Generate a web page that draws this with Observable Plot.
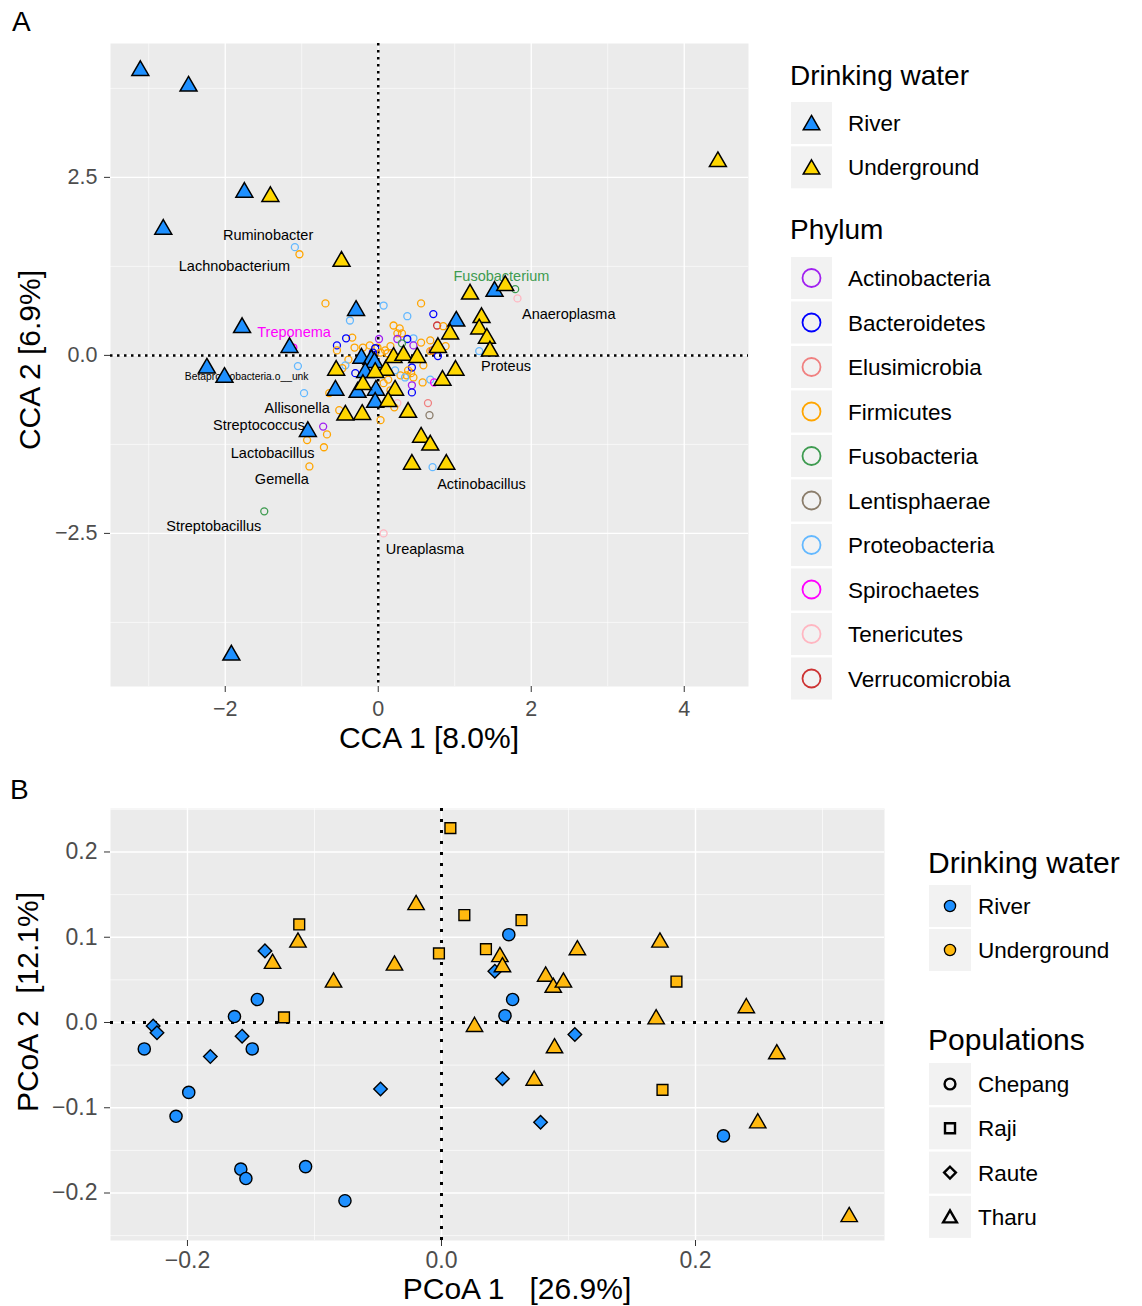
<!DOCTYPE html>
<html>
<head>
<meta charset="utf-8">
<script src="https://cdn.jsdelivr.net/npm/d3@7"></script>
<script src="https://cdn.jsdelivr.net/npm/@observablehq/plot@0.6"></script>
<style>
  body { margin: 0; background: #fff; }
  #root { position: relative; width: 1142px; height: 1306px; overflow: hidden; background: #fff;
          font-family: "Liberation Sans", Arial, Helvetica, sans-serif; }
</style>
</head>
<body>
<div id="root"></div>
<script>
// ---------------- DATA ----------------
const waterTypes = ["River", "Underground"];
const waterColorsA = ["#1E90FF", "#FFD700"];
const waterColorsB = ["#1E90FF", "#FFB90F"];
const phyla = ["Actinobacteria", "Bacteroidetes", "Elusimicrobia", "Firmicutes", "Fusobacteria",
  "Lentisphaerae", "Proteobacteria", "Spirochaetes", "Tenericutes", "Verrucomicrobia"];
const phylumColors = ["#A020F0", "#0000FF", "#F08080", "#FFA500", "#3E9B50",
  "#8B7D6B", "#63B8FF", "#FF00FF", "#FFB6C1", "#CD3333"];
const populations = ["Chepang", "Raji", "Raute", "Tharu"];

// Panel A: samples (CCA scores)
const riverCCA1 = [-3.11, -2.48, -1.75, -2.81, -1.78, -1.16, -2.24, -2.01, -0.92, -1.92, -0.29, 1.52, 1.02,
  -0.22, -0.09, -0.05, -0.17, -0.56, -0.27, -0.03, -0.04];
const riverCCA2 = [4.00, 3.78, 2.29, 1.77, 0.39, 0.11, -0.18, -0.31, -1.07, -4.21, 0.63, 0.90, 0.48,
  -0.04, -0.06, -0.10, -0.24, -0.49, -0.52, -0.49, -0.66];
const undergroundCCA1 = [4.44, -1.41, -0.48, 1.20, 1.66, 1.35, 1.32, 1.42, 1.46, 0.78, 0.94, 1.01, 0.84, 0.39,
  0.56, 0.68, 0.44, 0.89, -0.55, -0.43, -0.21, -0.20, 0.10, 0.20, 0.33, 0.51, 0.22, 0.13, -0.04];
const undergroundCCA2 = [2.72, 2.23, 1.32, 0.86, 0.98, 0.53, 0.37, 0.24, 0.06, 0.11, 0.30, -0.21, -0.35, -0.80,
  -1.15, -1.26, -1.53, -1.53, -0.21, -0.84, -0.83, -0.41, -0.21, -0.03, 0.00, -0.03, -0.49, -0.65, -0.24];

// Panel A: genera (CCA scores) coloured by phylum
const speciesCCA1 = [-1.09, -1.03, -0.69, 0.07, 0.56, -0.37, 0.72, 0.38, 0.77, 0.85, 0.20, 0.28, 0.31, 0.25,
  -0.34, -0.31, -0.42, -0.54, -0.54, 0.01, 0.46, 0.25, 0.38, 0.31, 0.16, 0.09, 0.46, -0.20, -0.11, -0.01,
  -0.04, 0.12, 0.68, 0.71, 0.78, 0.88, 1.32, -1.05, -1.11, -0.39, -0.43, -0.30, -0.47, 0.29, 0.37, 0.43,
  0.35, 0.44, 0.59, 0.46, 0.68, 0.58, 0.44, 0.44, 0.73, -0.97, -0.64, 0.07, 0.25, 0.21, 0.65, 0.67, -0.51,
  0.03, -0.72, -0.67, -0.93, -0.71, -0.90, 0.71, -1.49, 0.07, 1.79, 1.82, 0.16, 0.13, 0.56, 0.22, 0.39,
  0.03, 0.68, -0.07];
const speciesCCA2 = [1.52, 1.42, 0.73, 0.70, 0.73, 0.49, 0.58, 0.55, 0.42, 0.41, 0.42, 0.38, 0.31, 0.31,
  0.25, 0.11, 0.24, 0.14, 0.07, 0.23, 0.24, 0.23, 0.23, 0.17, 0.13, 0.07, 0.14, 0.11, 0.14, 0.11,
  0.10, 0.03, 0.21, 0.07, -0.01, 0.13, 0.06, -0.15, 0.11, -0.06, -0.14, -0.25, -0.18, -0.28, -0.28, -0.25,
  -0.31, -0.17, -0.14, -0.31, -0.34, -0.38, -0.42, -0.52, -0.38, -0.53, -0.53, -0.39, -0.67, -0.73, -0.67,
  -0.84, -0.77, -0.91, -1.00, -1.11, -1.19, -1.29, -1.56, -1.57, -2.19, -2.50, 0.93, 0.80, -0.49, -0.34,
  0.18, -0.21, -0.21, 0.04, 0.06, 0.04];
const speciesPhylum = ["Proteobacteria", "Firmicutes", "Firmicutes", "Proteobacteria", "Firmicutes",
  "Proteobacteria", "Bacteroidetes", "Proteobacteria", "Verrucomicrobia", "Firmicutes", "Firmicutes",
  "Firmicutes", "Firmicutes", "Firmicutes", "Firmicutes", "Firmicutes", "Bacteroidetes", "Bacteroidetes",
  "Firmicutes", "Actinobacteria", "Proteobacteria", "Actinobacteria", "Bacteroidetes", "Fusobacteria",
  "Firmicutes", "Firmicutes", "Actinobacteria", "Firmicutes", "Firmicutes", "Firmicutes", "Bacteroidetes",
  "Firmicutes", "Firmicutes", "Verrucomicrobia", "Bacteroidetes", "Firmicutes", "Proteobacteria",
  "Proteobacteria", "Spirochaetes", "Firmicutes", "Proteobacteria", "Bacteroidetes", "Firmicutes",
  "Firmicutes", "Firmicutes", "Firmicutes", "Proteobacteria", "Bacteroidetes", "Firmicutes", "Firmicutes",
  "Proteobacteria", "Firmicutes", "Actinobacteria", "Bacteroidetes", "Spirochaetes", "Proteobacteria",
  "Firmicutes", "Firmicutes", "Tenericutes", "Firmicutes", "Elusimicrobia", "Lentisphaerae", "Firmicutes",
  "Firmicutes", "Actinobacteria", "Firmicutes", "Firmicutes", "Firmicutes", "Firmicutes", "Proteobacteria",
  "Fusobacteria", "Tenericutes", "Fusobacteria", "Tenericutes", "Firmicutes", "Firmicutes", "Firmicutes",
  "Proteobacteria", "Firmicutes", "Firmicutes", "Firmicutes", "Bacteroidetes"];

// Panel A: genus labels
const genusNames = ["Ruminobacter", "Lachnobacterium", "Fusobacterium", "Anaeroplasma", "Treponema",
  "Betaproteobacteria.o__unk", "Proteus", "Allisonella", "Streptococcus", "Lactobacillus", "Gemella",
  "Actinobacillus", "Streptobacillus", "Ureaplasma"];
const genusCCA1 = [-1.44, -1.88, 1.61, 2.49, -1.10, -1.72, 1.67, -1.06, -1.56, -1.38, -1.26, 1.35, -2.15, 0.61];
const genusCCA2 = [1.69, 1.25, 1.11, 0.58, 0.33, -0.30, -0.16, -0.75, -0.98, -1.38, -1.74, -1.81, -2.40, -2.73];
const genusHighlight = [null, null, "Fusobacteria", null, "Spirochaetes", null, null, null, null, null, null, null, null, null];

// Panel B: PCoA by population
const populationWater = ["River", "Underground", "River", "Underground"];
const chepangPC1 = [-0.145, -0.163, -0.234, -0.149, -0.199, -0.209, -0.158, -0.154, -0.107, -0.076, 0.053, 0.056, 0.050, 0.222];
const chepangPC2 = [0.027, 0.007, -0.031, -0.031, -0.082, -0.110, -0.172, -0.183, -0.169, -0.209, 0.103, 0.027, 0.008, -0.133];
const rajiPC1 = [-0.112, -0.124, 0.007, 0.018, -0.002, 0.035, 0.063, 0.185, 0.174];
const rajiPC2 = [0.115, 0.006, 0.228, 0.126, 0.081, 0.086, 0.120, 0.048, -0.079];
const rautePC1 = [-0.227, -0.224, -0.182, -0.157, -0.139, -0.048, 0.042, 0.105, 0.048, 0.078];
const rautePC2 = [-0.004, -0.012, -0.040, -0.016, 0.084, -0.078, 0.060, -0.014, -0.066, -0.117];
const tharuPC1 = [-0.113, -0.133, -0.085, -0.020, -0.037, 0.026, 0.046, 0.048, 0.082, 0.088, 0.096, 0.107,
  0.172, 0.169, 0.240, 0.264, 0.089, 0.073, 0.249, 0.321];
const tharuPC2 = [0.094, 0.069, 0.047, 0.138, 0.067, -0.005, 0.077, 0.065, 0.054, 0.041, 0.047, 0.085,
  0.094, 0.004, 0.017, -0.037, -0.030, -0.068, -0.118, -0.228];

// Ticks / grid
const ticksAx = [-2, 0, 2, 4];
const ticksAy = [-2.5, 0, 2.5];
const minorAx = [-3, -1, 1, 3];
const minorAy = [-3.75, -1.25, 1.25, 3.75];
const ticksBx = [-0.2, 0, 0.2];
const ticksBy = [-0.2, -0.1, 0, 0.1, 0.2];
const minorBx = [-0.1, 0.1, 0.3];
const minorBy = [-0.25, -0.15, -0.05, 0.05, 0.15, 0.25];

// ---------------- BUILD ----------------
const FONT = '"Liberation Sans", Arial, Helvetica, sans-serif';
const root = document.getElementById("root");
function place(el, left, top) {
  el.style.position = "absolute";
  el.style.left = left + "px";
  el.style.top = top + "px";
  root.appendChild(el);
}

const samplesA = [
  ...riverCCA1.map((x, i) => ({x, y: riverCCA2[i], water: "River"})),
  ...undergroundCCA1.map((x, i) => ({x, y: undergroundCCA2[i], water: "Underground"}))
];
const speciesA = speciesCCA1.map((x, i) => ({x, y: speciesCCA2[i], phylum: speciesPhylum[i]}));
const labelsA = genusNames.map((name, i) => ({name, x: genusCCA1[i], y: genusCCA2[i], phylum: genusHighlight[i]}));

const chartA = Plot.plot({
  width: 760, height: 760,
  marginLeft: 110, marginRight: 12, marginTop: 43, marginBottom: 74,
  style: {fontFamily: FONT, background: "transparent", overflow: "visible"},
  x: {domain: [-3.50, 4.84]},
  y: {domain: [-4.65, 4.38]},
  color: {domain: [...phyla, ...waterTypes], range: [...phylumColors, ...waterColorsA]},
  marks: [
    Plot.frame({fill: "#EBEBEB", stroke: "none"}),
    Plot.ruleX(minorAx, {stroke: "white", strokeWidth: 0.6}),
    Plot.ruleY(minorAy, {stroke: "white", strokeWidth: 0.6}),
    Plot.ruleX(ticksAx, {stroke: "white", strokeWidth: 1.3}),
    Plot.ruleY(ticksAy, {stroke: "white", strokeWidth: 1.3}),
    Plot.ruleX([0], {stroke: "black", strokeWidth: 2.5, strokeDasharray: "2.5,4.5"}),
    Plot.ruleY([0], {stroke: "black", strokeWidth: 2.5, strokeDasharray: "2.5,4.5"}),
    Plot.axisX({ticks: ticksAx, tickFormat: d3.format("d"), tickSize: 6, tickPadding: 8, fontSize: 21.5,
      label: null, stroke: "#333333", fill: "#4D4D4D"}),
    Plot.axisY({ticks: ticksAy, tickFormat: d3.format(".1f"), tickSize: 6, tickPadding: 7, fontSize: 21.5,
      label: null, stroke: "#333333", fill: "#4D4D4D"}),
    Plot.dot(speciesA, {x: "x", y: "y", stroke: "phylum", fill: "none", r: 3.5, strokeWidth: 1.3}),
    Plot.text(labelsA.filter(d => !d.phylum && d.name.length < 20), {x: "x", y: "y", text: "name", fontSize: 14.5, fill: "black"}),
    Plot.text(labelsA.filter(d => !d.phylum && d.name.length >= 20), {x: "x", y: "y", text: "name", fontSize: 10.3, fill: "black"}),
    Plot.text(labelsA.filter(d => d.phylum), {x: "x", y: "y", text: "name", fontSize: 14.5, fill: "phylum"}),
    Plot.dot(samplesA, {x: "x", y: "y", fill: "water", stroke: "black", strokeWidth: 1.5, r: 6.3, symbol: "triangle"})
  ]
});
place(chartA, 0, 0);

const popData = [
  {name: "Chepang", xs: chepangPC1, ys: chepangPC2},
  {name: "Raji", xs: rajiPC1, ys: rajiPC2},
  {name: "Raute", xs: rautePC1, ys: rautePC2},
  {name: "Tharu", xs: tharuPC1, ys: tharuPC2}
];
const samplesB = popData.map(p => p.xs.map((x, i) => ({x, y: p.ys[i], pop: p.name,
  water: populationWater[populations.indexOf(p.name)]})));
const diamondSym = d3.symbolDiamond2 || "diamond";
const symbolFor = {Chepang: "circle", Raji: "square", Raute: diamondSym, Tharu: "triangle"};
// draw River populations first, then Underground
const drawOrder = ["Chepang", "Raute", "Raji", "Tharu"];

const chartB = Plot.plot({
  width: 900, height: 546,
  marginLeft: 110, marginRight: 16, marginTop: 48, marginBottom: 66,
  style: {fontFamily: FONT, background: "transparent", overflow: "visible"},
  x: {domain: [-0.2606, 0.3488]},
  y: {domain: [-0.2557, 0.251]},
  color: {domain: waterTypes, range: waterColorsB},
  marks: [
    Plot.frame({fill: "#EBEBEB", stroke: "none"}),
    Plot.ruleX(minorBx, {stroke: "white", strokeWidth: 0.65}),
    Plot.ruleY(minorBy, {stroke: "white", strokeWidth: 0.65}),
    Plot.ruleX(ticksBx, {stroke: "white", strokeWidth: 1.4}),
    Plot.ruleY(ticksBy, {stroke: "white", strokeWidth: 1.4}),
    Plot.ruleX([0], {stroke: "black", strokeWidth: 3, strokeDasharray: "3,8"}),
    Plot.ruleY([0], {stroke: "black", strokeWidth: 3, strokeDasharray: "3,8"}),
    Plot.axisX({ticks: ticksBx, tickFormat: d3.format(".1f"), tickSize: 6, tickPadding: 5, fontSize: 23,
      label: null, stroke: "#333333", fill: "#4D4D4D"}),
    Plot.axisY({ticks: ticksBy, tickFormat: d3.format(".1f"), tickSize: 6, tickPadding: 7, fontSize: 23,
      label: null, stroke: "#333333", fill: "#4D4D4D"}),
    ...drawOrder.map(name => Plot.dot(samplesB[populations.indexOf(name)],
      {x: "x", y: "y", fill: "water", stroke: "black", strokeWidth: 1.4, r: 6.1, symbol: symbolFor[name]}))
  ]
});
place(chartB, 0, 760);

// ---------------- OVERLAY: titles + legends ----------------
const ov = d3.create("svg").attr("width", 1142).attr("height", 1306)
  .style("font-family", FONT).style("pointer-events", "none");
place(ov.node(), 0, 0);

function text(x, y, s, size, opts = {}) {
  const t = ov.append("text").attr("x", x).attr("y", y).attr("font-size", size)
    .attr("fill", opts.fill || "#000").text(s);
  if (opts.anchor) t.attr("text-anchor", opts.anchor);
  if (opts.dy) t.attr("dy", opts.dy);
  if (opts.rotate) t.attr("x", 0).attr("y", 0).attr("transform", `translate(${x},${y}) rotate(-90)`);
  return t;
}
const NB = "\u00A0";
text(12, 31, "A", 28);
text(10, 799, "B", 28);
text(429, 748, "CCA 1 [8.0%]", 30, {anchor: "middle"});
text(40, 360, "CCA 2 [6.9%]", 30, {anchor: "middle", rotate: true});
text(517, 1299, "PCoA 1" + NB + NB + NB + "[26.9%]", 30, {anchor: "middle"});
text(38, 1002, "PCoA 2" + NB + NB + "[12.1%]", 30, {anchor: "middle", rotate: true});

function keyBox(x, cy, w, h) {
  ov.append("rect").attr("x", x).attr("y", cy - h / 2).attr("width", w).attr("height", h).attr("fill", "#F2F2F2");
}
function sym(type, size, cx, cy, fill, stroke, sw) {
  ov.append("path").attr("transform", `translate(${cx},${cy})`)
    .attr("d", d3.symbol(type, size)()).attr("fill", fill).attr("stroke", stroke).attr("stroke-width", sw);
}

// Legend A
text(790, 85, "Drinking water", 28);
waterTypes.forEach((w, i) => {
  const cy = 123 + i * 44.3;
  keyBox(791, cy, 41, 42);
  sym(d3.symbolTriangle, 118, 811.5, cy + 2, waterColorsA[i], "#000", 1.5);
  text(848, cy, w, 22.5, {dy: "0.36em"});
});
text(790, 239, "Phylum", 28);
phyla.forEach((p, i) => {
  const cy = 278 + i * 44.5;
  keyBox(791, cy, 41, 42);
  sym(d3.symbolCircle, Math.PI * 81, 811.5, cy, "none", phylumColors[i], 1.8);
  text(848, cy, p, 22.5, {dy: "0.36em"});
});

// Legend B
text(928, 873, "Drinking water", 30);
waterTypes.forEach((w, i) => {
  const cy = 906 + i * 44;
  keyBox(929, cy, 42, 42);
  sym(d3.symbolCircle, Math.PI * 5.6 * 5.6, 950, cy, waterColorsB[i], "#000", 1.3);
  text(978, cy, w, 22.5, {dy: "0.36em"});
});
text(928, 1050, "Populations", 30);
const legendPopSymbols = [d3.symbolCircle, d3.symbolSquare, d3.symbolDiamond2 || d3.symbolDiamond, d3.symbolTriangle];
const legendPopSizes = [92, 100, 88, 82];
populations.forEach((p, i) => {
  const cy = 1084 + i * 44.3;
  keyBox(929, cy, 42, 42);
  sym(legendPopSymbols[i], legendPopSizes[i], 950, cy + (i === 3 ? 1.5 : 0), "none", "#000", 2.4);
  text(978, cy, p, 22.5, {dy: "0.36em"});
});
</script>
</body>
</html>
